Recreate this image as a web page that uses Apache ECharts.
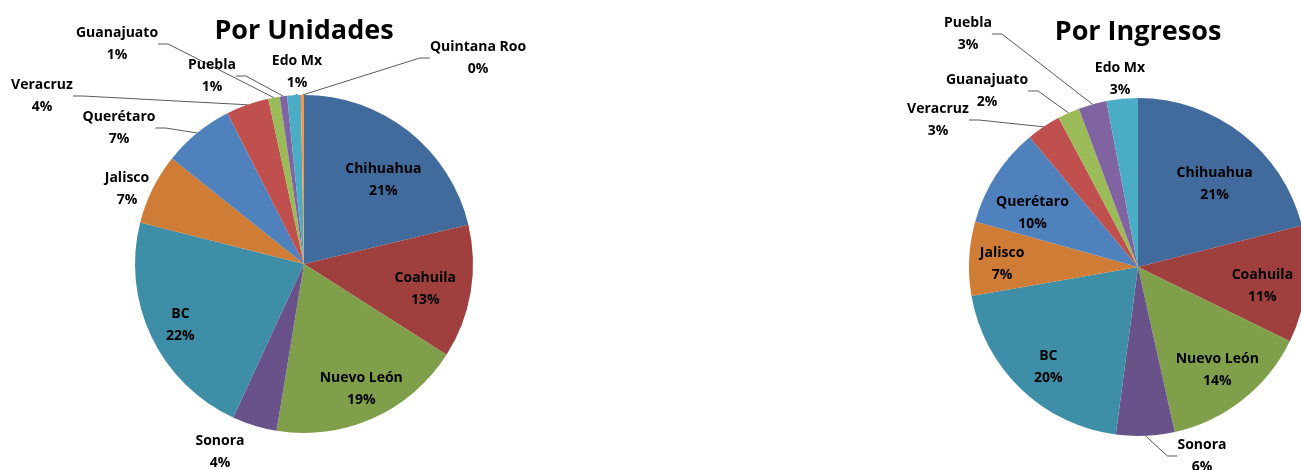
<!DOCTYPE html>
<html>
<head>
<meta charset="utf-8">
<script src="https://cdn.jsdelivr.net/npm/echarts@6/dist/echarts.min.js"></script>
<style>
    html, body { margin: 0; padding: 0; background: #fff; }
    #chart { width: 1301px; height: 470px; }
</style>
</head>
<body>
<div id="chart"></div>
<script>
    // estados (en orden de las rebanadas, desde las 12 en sentido horario)
    var estados = ['Chihuahua', 'Coahuila', 'Nuevo León', 'Sonora', 'BC', 'Jalisco',
        'Querétaro', 'Veracruz', 'Guanajuato', 'Puebla', 'Edo Mx', 'Quintana Roo'];
    var colores = ['#416a9d', '#9f403e', '#7f9f4a', '#69528a', '#3d8ea6', '#cf7c36',
        '#4f81bd', '#c0504d', '#9bbb59', '#8064a2', '#4bacc6', '#f79646'];
    // participacion (%)
    var porUnidades = [21.3, 12.8, 18.6, 4.3, 22.1, 6.8, 6.8, 4.1, 1.1, 0.7, 1.3, 0.3];
    var porIngresos = [21.1, 11.2, 14.3, 5.6, 20.2, 7.1, 9.6, 3.3, 2.1, 2.7, 3.0];

    // etiquetas que van dentro de la rebanada
    var dentroUnidades = ['Chihuahua', 'Coahuila', 'Nuevo León', 'BC'];
    var dentroIngresos = ['Chihuahua', 'Coahuila', 'Nuevo León', 'BC', 'Jalisco', 'Querétaro'];

    // posicion de las etiquetas de afuera (layout, no datos)
    var posUnidades = {
        'Sonora': [220, 452, false],
        'Jalisco': [127, 189, false],
        'Querétaro': [119, 128, true],
        'Veracruz': [42, 96, true],
        'Guanajuato': [117, 44, true],
        'Puebla': [212, 76, true],
        'Edo Mx': [297, 72, true],
        'Quintana Roo': [478, 58, true]
    };
    var posIngresos = {
        'Sonora': [1202, 456, true],
        'Veracruz': [938, 120, true],
        'Guanajuato': [987, 91, true],
        'Puebla': [968, 34, true],
        'Edo Mx': [1120, 79, true]
    };
    // pequeños ajustes [dx, dy] de las etiquetas internas, como las acomoda Excel
    var ajusteU = { 'Chihuahua': [0, 17], 'Coahuila': [-5, 4], 'Nuevo León': [5, 8], 'BC': [-8, 6] };
    var ajusteI = { 'Chihuahua': [-2, 18], 'Coahuila': [-3, 6], 'Nuevo León': [0, 2], 'BC': [-1, 8],
        'Jalisco': [-8, 3], 'Querétaro': [2, 16] };

    var chart = echarts.init(document.getElementById('chart'));
    var fuente = '"Open Sans", "DejaVu Sans", sans-serif';
    var R = 169;

    function fmt(p) {
        return p.name + '\n' + Math.round(p.percent) + '%';
    }

    function armaDatos(valores, dentro, pos, esOverlay) {
        return valores.map(function (v, i) {
            var nombre = estados[i];
            var esDentro = dentro.indexOf(nombre) >= 0;
            var item = {
                name: nombre,
                value: v,
                itemStyle: { color: esOverlay ? 'rgba(0,0,0,0)' : colores[i] }
            };
            if (esOverlay) {
                item.label = { show: esDentro };
            } else {
                item.label = { show: !esDentro };
                item.labelLine = { show: !esDentro && pos[nombre] ? pos[nombre][2] : false };
            }
            return item;
        });
    }

    function layoutDe(pos, datos) {
        return function (params) {
            var nombre = datos[params.dataIndex].name;
            var p = pos[nombre];
            if (!p) return {};
            return { x: p[0], y: p[1], align: 'center', verticalAlign: 'middle' };
        };
    }

    var datosU = armaDatos(porUnidades, dentroUnidades, posUnidades, false);
    var datosI = armaDatos(porIngresos, dentroIngresos, posIngresos, false);

    var etiqueta = {
        formatter: fmt,
        color: '#000',
        fontFamily: fuente,
        fontWeight: 'bold',
        fontSize: 14,
        lineHeight: 22
    };

    function pastel(centro, datos, pos) {
        return {
            type: 'pie',
            center: centro,
            radius: [0, R],
            startAngle: 90,
            avoidLabelOverlap: false,
            animation: false,
            data: datos,
            label: Object.assign({ position: 'outside' }, etiqueta),
            labelLine: { show: true, length: 10, length2: 10, lineStyle: { color: '#595959', width: 1 } },
            labelLayout: layoutDe(pos, datos),
            emphasis: { disabled: true }
        };
    }

    // serie transparente para colocar las etiquetas internas a ~0.74 del radio
    function interno(centro, valores, dentro, ajuste) {
        return {
            type: 'pie',
            center: centro,
            radius: [R * 0.48, R],
            startAngle: 90,
            silent: true,
            animation: false,
            avoidLabelOverlap: false,
            data: armaDatos(valores, dentro, {}, true),
            label: Object.assign({ position: 'inside' }, etiqueta),
            labelLine: { show: false },
            labelLayout: function (params) {
                var a = ajuste[estados[params.dataIndex]] || [0, 0];
                return { dx: a[0], dy: a[1] };
            },
            emphasis: { disabled: true }
        };
    }

    var estiloTitulo = { fontFamily: fuente, fontWeight: 'bold', fontSize: 27, color: '#000' };

    var option = {
        backgroundColor: '#fff',
        title: [
            { text: 'Por Unidades', left: 299, top: 13, textAlign: 'center', textStyle: estiloTitulo },
            { text: 'Por Ingresos', left: 1133, top: 14, textAlign: 'center', textStyle: estiloTitulo }
        ],
        series: [
            pastel([304, 264], datosU, posUnidades),
            interno([304, 264], porUnidades, dentroUnidades, ajusteU),
            pastel([1138, 267], datosI, posIngresos),
            interno([1138, 267], porIngresos, dentroIngresos, ajusteI)
        ]
    };

    chart.setOption(option);
    window.addEventListener('resize', function () {
        chart.resize();
    });
</script>
</body>
</html>
